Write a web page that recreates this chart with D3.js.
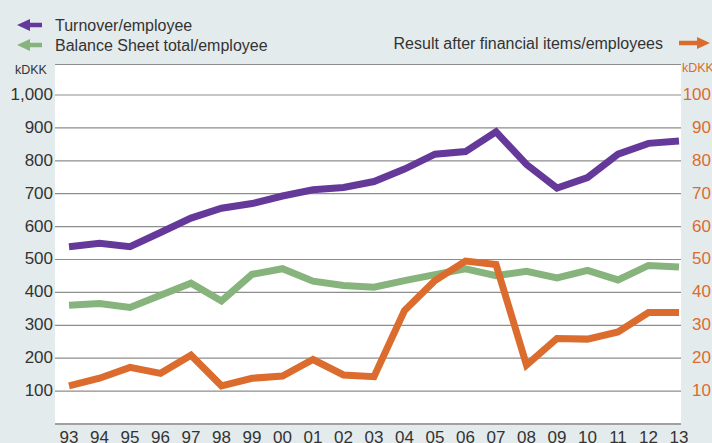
<!DOCTYPE html>
<html>
<head>
<meta charset="utf-8">
<script src="https://cdn.jsdelivr.net/npm/d3@7"></script>
<style>
  html, body { margin: 0; padding: 0; background: #e4ebed; }
  svg { display: block; font-family: "Liberation Sans", Arial, Helvetica, sans-serif; }
</style>
</head>
<body>
<script>
// Years on the x axis
const years = ["93", "94", "95", "96", "97", "98", "99", "00", "01", "02", "03",
  "04", "05", "06", "07", "08", "09", "10", "11", "12", "13"];

// Left axis series (kDKK)
const turnover = [539, 549, 539, 582, 626, 656, 670, 693, 712, 719, 737,
  775, 820, 828, 888, 789, 717, 749, 820, 853, 860];
const balance = [361, 366, 354, 391, 428, 374, 455, 472, 434, 421, 416,
  436, 454, 472, 451, 464, 444, 467, 438, 482, 477];

// Right axis series (kDKK)
const result = [11.6, 13.9, 17.2, 15.4, 20.9, 11.6, 13.9, 14.6, 19.6, 14.9, 14.4,
  34.5, 43.6, 49.5, 48.5, 17.9, 26.0, 25.8, 28.0, 33.9, 33.9];

const leftTicks = [100, 200, 300, 400, 500, 600, 700, 800, 900, 1000];
const rightTicks = [10, 20, 30, 40, 50, 60, 70, 80, 90, 100];

const width = 712;
const height = 443;
const plot = { left: 55, right: 681, top: 64, bottom: 424 };

const colors = { turnover: "#65399a", balance: "#86b47c", result: "#db6c2e" };
const textColor = "#333";
const gridColor = "#8d8d8d";

const svg = d3.select("body").append("svg")
  .attr("width", width)
  .attr("height", height);

// white plot area
svg.append("rect")
  .attr("x", plot.left)
  .attr("y", plot.top)
  .attr("width", plot.right - plot.left)
  .attr("height", plot.bottom - plot.top)
  .attr("fill", "#fff");

const x = d3.scalePoint().domain(years).range([69, 679]);
const yLeft = d3.scaleLinear().domain([0, 1000]).range([plot.bottom, 95]);
const yRight = d3.scaleLinear().domain([0, 100]).range([plot.bottom, 95]);

// top border
svg.append("line")
  .attr("x1", plot.left).attr("x2", plot.right)
  .attr("y1", plot.top + 0.5).attr("y2", plot.top + 0.5)
  .attr("stroke", gridColor).attr("stroke-width", 1.2);

// gridlines
svg.append("g")
  .selectAll("line")
  .data(leftTicks)
  .join("line")
  .attr("x1", plot.left).attr("x2", plot.right)
  .attr("y1", (d) => yLeft(d)).attr("y2", (d) => yLeft(d))
  .attr("stroke", gridColor).attr("stroke-width", 1.2);

// bottom axis line
svg.append("line")
  .attr("x1", plot.left).attr("x2", plot.right)
  .attr("y1", plot.bottom).attr("y2", plot.bottom)
  .attr("stroke", "#a0a0a0").attr("stroke-width", 2);

// left axis labels
svg.append("g")
  .selectAll("text")
  .data(leftTicks)
  .join("text")
  .attr("x", 53)
  .attr("y", (d) => yLeft(d) - 1)
  .attr("dy", "0.35em")
  .attr("text-anchor", "end")
  .attr("font-size", 17)
  .attr("fill", textColor)
  .text((d) => d3.format(",")(d));

svg.append("text")
  .attr("x", 15).attr("y", 74)
  .attr("font-size", 12.5)
  .attr("fill", textColor)
  .text("kDKK");

// right axis labels
svg.append("g")
  .selectAll("text")
  .data(rightTicks)
  .join("text")
  .attr("x", 711)
  .attr("y", (d) => yRight(d) - 1)
  .attr("dy", "0.35em")
  .attr("text-anchor", "end")
  .attr("font-size", 17)
  .attr("fill", colors.result)
  .text((d) => d);

svg.append("text")
  .attr("x", 682).attr("y", 72)
  .attr("font-size", 12.5)
  .attr("fill", colors.result)
  .text("kDKK");

// x axis labels
svg.append("g")
  .selectAll("text")
  .data(years)
  .join("text")
  .attr("x", (d) => x(d))
  .attr("y", 443)
  .attr("text-anchor", "middle")
  .attr("font-size", 17)
  .attr("fill", textColor)
  .text((d) => d);

// lines
const series = [
  { values: balance, y: yLeft, color: colors.balance },
  { values: turnover, y: yLeft, color: colors.turnover },
  { values: result, y: yRight, color: colors.result }
];

series.forEach((s) => {
  const line = d3.line()
    .x((d, i) => x(years[i]))
    .y((d) => s.y(d));
  svg.append("path")
    .datum(s.values)
    .attr("d", line)
    .attr("fill", "none")
    .attr("stroke", s.color)
    .attr("stroke-width", 7)
    .attr("stroke-linejoin", "miter");
});

// legend arrows
function arrow(xTail, xTip, yPos, color) {
  const dir = Math.sign(xTip - xTail);
  const head = 13;
  svg.append("line")
    .attr("x1", xTail).attr("x2", xTip - dir * head)
    .attr("y1", yPos).attr("y2", yPos)
    .attr("stroke", color).attr("stroke-width", 4.5);
  svg.append("path")
    .attr("d", `M${xTip},${yPos} L${xTip - dir * head},${yPos - 6} L${xTip - dir * head},${yPos + 6} Z`)
    .attr("fill", color);
}

const legendLeft = [
  { label: "Turnover/employee", color: colors.turnover, y: 25 },
  { label: "Balance Sheet total/employee", color: colors.balance, y: 45 }
];

legendLeft.forEach((d) => {
  arrow(42, 17, d.y, d.color);
  svg.append("text")
    .attr("x", 55).attr("y", d.y + 5.5)
    .attr("font-size", 16)
    .attr("fill", textColor)
    .text(d.label);
});

arrow(679, 710, 43, colors.result);
svg.append("text")
  .attr("x", 663).attr("y", 48.5)
  .attr("text-anchor", "end")
  .attr("font-size", 16)
  .attr("fill", textColor)
  .text("Result after financial items/employees");
</script>
</body>
</html>
